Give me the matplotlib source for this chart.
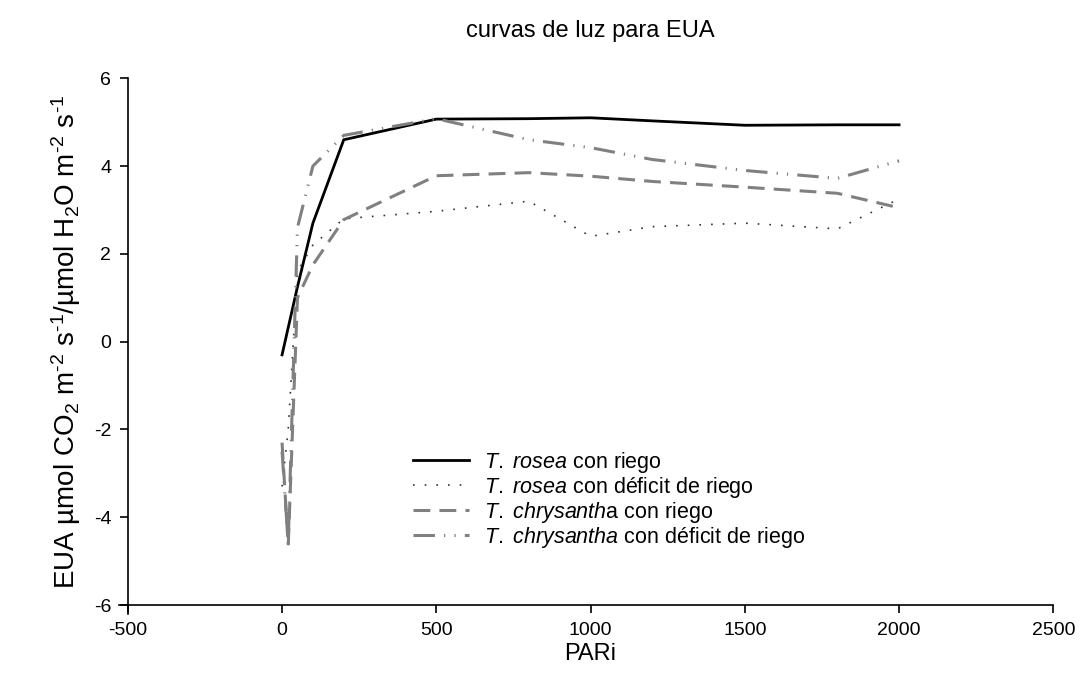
import matplotlib
matplotlib.use('Agg')
import matplotlib.pyplot as plt

plt.rcParams['font.family'] = ['Liberation Sans', 'DejaVu Sans']
plt.rcParams['mathtext.fontset'] = 'custom'
plt.rcParams['mathtext.rm'] = 'Liberation Sans'
plt.rcParams['mathtext.it'] = 'Liberation Sans:italic'
plt.rcParams['axes.unicode_minus'] = False

# rosea con riego
x_rosea_r = [0, 50, 100, 200, 500, 800, 1000, 1200, 1500, 1800, 2000]
y_rosea_r = [-0.3, 1.25, 2.7, 4.6, 5.07, 5.08, 5.1, 5.03, 4.93, 4.94, 4.94]
# rosea con deficit
x_rosea_d = [0, 20, 50, 100, 200, 500, 800, 1000, 1200, 1500, 1800, 2000]
y_rosea_d = [-3.3, -2.0, 1.6, 2.2, 2.8, 2.97, 3.2, 2.4, 2.62, 2.7, 2.57, 3.25]
# chrysantha con riego
x_chrys_r = [0, 20, 50, 100, 200, 500, 800, 1000, 1200, 1500, 1800, 2000]
y_chrys_r = [-2.3, -4.65, 1.0, 1.75, 2.78, 3.78, 3.85, 3.77, 3.65, 3.52, 3.38, 3.05]
# chrysantha con deficit
x_chrys_d = [0, 20, 50, 100, 200, 500, 800, 1000, 1200, 1500, 1800, 2000]
y_chrys_d = [-2.5, -4.6, 2.6, 4.0, 4.7, 5.08, 4.6, 4.42, 4.15, 3.9, 3.72, 4.12]

labels = [r'$\it{T.\ rosea}$ con riego',
          r'$\it{T.\ rosea}$ con déficit de riego',
          r'$\it{T.\ chrysanth}$a con riego',
          r'$\it{T.\ chrysantha}$ con déficit de riego']

fig = plt.figure(figsize=(10.83, 6.88), dpi=100)
ax = fig.add_axes([0.118, 0.1206, 0.8546, 0.7656])

ax.plot(x_rosea_r, y_rosea_r, color='black', lw=2.0, label=labels[0])
ax.plot(x_rosea_d, y_rosea_d, color='#333333', lw=1.2, dashes=(1, 6), label=labels[1])
ax.plot(x_chrys_r, y_chrys_r, color='#808080', lw=2.2, dashes=(5.5, 3), label=labels[2])
ax.plot(x_chrys_d, y_chrys_d, color='#808080', lw=2.2,
        dashes=(7, 3, 0.4, 3, 0.4, 3), label=labels[3])

ax.set_xlim(-500, 2500)
ax.set_ylim(-6, 6)
ax.set_xticks([-500, 0, 500, 1000, 1500, 2000, 2500])
ax.set_yticks([-6, -4, -2, 0, 2, 4, 6])

ax.spines['top'].set_visible(False)
ax.spines['right'].set_visible(False)
for s in ['left', 'bottom']:
    ax.spines[s].set_linewidth(1.2)
ax.spines['bottom'].set_bounds(-530, 2500)
ax.spines['left'].set_bounds(-6.2, 6)
ax.tick_params(direction='out', length=6, width=1.2, labelsize=14, pad=6)

ax.set_title('curvas de luz para EUA', fontsize=17, pad=30)
ax.set_xlabel('PARi', fontsize=17, labelpad=3)
ax.set_ylabel(r'EUA µmol CO$_2$ m$^{\text{-}2}$ s$^{\text{-}1}$/µmol H$_2$O m$^{\text{-}2}$ s$^{\text{-}1}$',
              fontsize=20, labelpad=8)

ax.legend(loc='upper left', bbox_to_anchor=(0.308, 0.295), frameon=False,
          fontsize=15.5, handlelength=2.6, labelspacing=0.0, handletextpad=0.7,
          borderpad=0, borderaxespad=0)

fig.savefig('out.png', dpi=100)
